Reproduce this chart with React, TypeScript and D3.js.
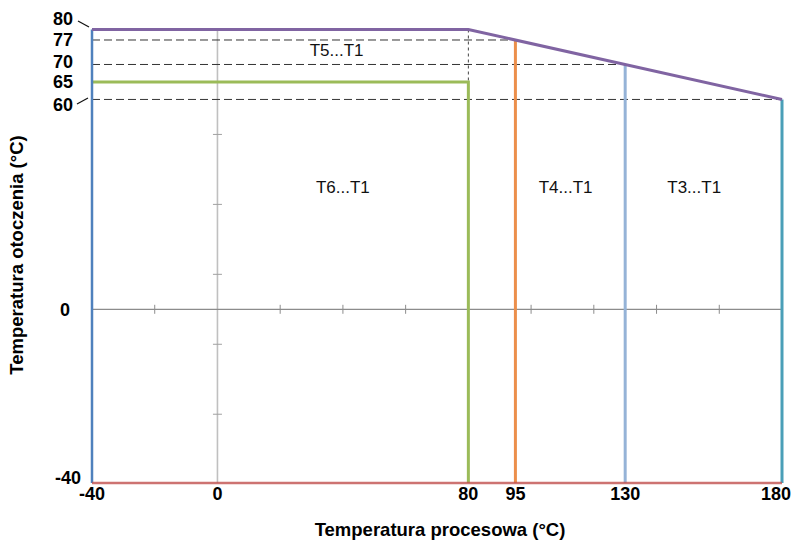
import React from 'react';
import * as d3 from 'd3';

// process temperature limits (°C) and the ambient limit for each class
const classBounds = [80, 95, 130, 180];
const ambientAtBound = [65, 77, 70, 60];
const classColors = ['#9bbb59', '#ec8f4b', '#95b3d7', '#4a9fb8'];

// top envelope of the diagram (process temp, ambient temp)
const envelopeX = [-40, 80, 180];
const envelopeY = [80, 80, 60];

// dashed reference levels
const dashedLevels = [77, 70, 60];

const xTickLabels = [-40, 0, 80, 95, 130, 180];
const yTickLabels = [80, 77, 70, 65, 60];
const xMinorTicks = [-20, 20, 40, 60, 100, 120, 140, 160];
const yMinorTicks = [50, 30, 10, -10, -30];

const zoneLabels = ['T6...T1', 'T5...T1', 'T4...T1', 'T3...T1'];
const zoneLabelX = [40, 38, 111, 152];
const zoneLabelY = [35, 74, 35, 35];

const W = 799;
const H = 542;

export default function App() {
  const x = d3.scaleLinear().domain([-40, 180]).range([92, 782]);
  // upper part of the frame is drawn on a finer scale than the part below zero
  const y = d3.scaleLinear().domain([-40, 0, 80]).range([483, 309.3, 29.5]);
  const yMinor = d3.scaleLinear().domain([0, 80]).range([309.3, 29.5]);

  const envelope = d3.line<number>()
    .x((d, i) => x(envelopeX[i]))
    .y((d, i) => y(envelopeY[i]));

  // ambient limit along the sloped edge
  const slope = d3.scaleLinear().domain([80, 180]).range([80, 60]);

  const labelFont = { fontFamily: 'Liberation Sans, Arial, sans-serif', fontWeight: 700, fontSize: 18 };
  const titleFont = { ...labelFont, fontSize: 18.5 };

  return (
    <div style={{ position: 'absolute', left: 0, top: 0 }}>
      <svg width={W} height={H} style={{ display: 'block', background: '#fff' }}>
        {/* gray cross axes */}
        <line x1={x(0)} x2={x(0)} y1={y(80)} y2={y(-40)} stroke="#c0c0c0" strokeWidth={1.6} />
        <line x1={x(-40)} x2={x(180)} y1={y(0)} y2={y(0)} stroke="#8c8c8c" strokeWidth={1.2} />
        {xMinorTicks.map(t => (
          <line key={'xt' + t} x1={x(t)} x2={x(t)} y1={y(0) - 4.5} y2={y(0) + 4.5} stroke="#8c8c8c" strokeWidth={1} />
        ))}
        {yMinorTicks.map(t => (
          <line key={'yt' + t} x1={x(0) - 4.5} x2={x(0) + 4.5} y1={yMinor(t)} y2={yMinor(t)} stroke="#a0a0a0" strokeWidth={1} />
        ))}

        {/* dashed reference levels */}
        {dashedLevels.map(v => (
          <line key={'dl' + v} x1={x(-40)} x2={x(slope.invert(v))} y1={y(v)} y2={y(v)}
            stroke="#333" strokeWidth={1} strokeDasharray="8,4" />
        ))}
        <line x1={x(80)} x2={x(80)} y1={y(80)} y2={y(65)} stroke="#444" strokeWidth={1} strokeDasharray="3,3" />

        {/* class boundaries */}
        <polyline
          points={[[x(-40), y(65)], [x(80), y(65)], [x(80), y(-40)]].map(p => p.join(',')).join(' ')}
          fill="none" stroke={classColors[0]} strokeWidth={3} />
        {classBounds.slice(1).map((b, i) => (
          <line key={'cb' + b} x1={x(b)} x2={x(b)} y1={y(ambientAtBound[i + 1])} y2={y(-40)}
            stroke={classColors[i + 1]} strokeWidth={3} />
        ))}

        {/* frame */}
        <line x1={x(-40)} x2={x(-40)} y1={y(80)} y2={y(-40)} stroke="#4f81bd" strokeWidth={2.5} />
        <line x1={x(-40)} x2={x(180)} y1={y(-40)} y2={y(-40)} stroke="#c0504d" strokeWidth={2.5} strokeOpacity={0.8} />
        <path d={envelope(envelopeX) || ''} fill="none" stroke="#8064a2" strokeWidth={3} />

        {/* zone labels */}
        {zoneLabels.map((t, i) => (
          <text key={t} x={x(zoneLabelX[i])} y={y(zoneLabelY[i])} dy="0.35em" textAnchor="middle"
            fontFamily="Liberation Sans, Arial, sans-serif" fontSize={17} fill="#111">{t}</text>
        ))}

        {/* x tick labels */}
        {xTickLabels.map((v, i) => (
          <text key={'xl' + v} x={x(v) + (i === xTickLabels.length - 1 ? -6 : 0)} y={500} textAnchor="middle" style={labelFont}>{v}</text>
        ))}

        {/* y tick labels */}
        {yTickLabels.map((v, i) => (
          <text key={'yl' + v} x={73} y={[19, 40, 61.5, 82, 105][i]} dy="0.35em" textAnchor="end" style={labelFont}>{v}</text>
        ))}
        <text x={70} y={y(0)} dy="0.35em" textAnchor="end" style={labelFont}>0</text>
        <text x={81} y={478} dy="0.35em" textAnchor="end" style={labelFont}>-40</text>
        <line x1={78} y1={21} x2={89} y2={27} stroke="#111" strokeWidth={1.2} />
        <line x1={77} y1={104} x2={88} y2={98} stroke="#111" strokeWidth={1.2} />

        {/* axis titles */}
        <text x={440} y={530} dy="0.35em" textAnchor="middle" style={titleFont}>
          Temperatura procesowa (°C)
        </text>
        <text transform="translate(17,255) rotate(-90)" dy="0.35em" textAnchor="middle" style={titleFont}>
          Temperatura otoczenia (°C)
        </text>
      </svg>
    </div>
  );
}
